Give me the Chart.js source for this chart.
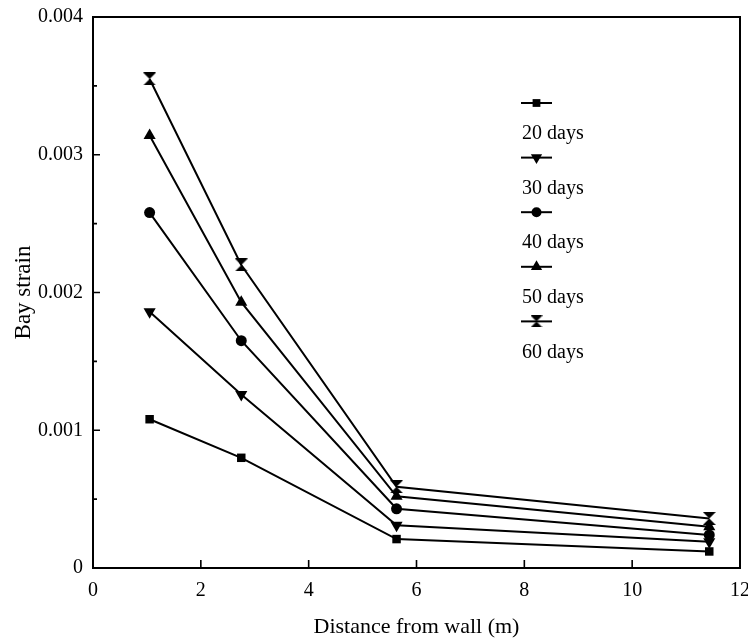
<!DOCTYPE html>
<html>
<head>
<meta charset="utf-8">
<script src="https://cdn.jsdelivr.net/npm/chart.js@4.4.0/dist/chart.umd.min.js"></script>
<style>
  html, body { margin: 0; padding: 0; background: #fff; }
  #wrap { width: 748px; height: 644px; }
</style>
</head>
<body>
<div id="wrap"><canvas id="c" width="748" height="644"></canvas></div>
<script>
// distance from wall (m) for the four gauge positions
const distances = [1.05, 2.75, 5.63, 11.43];

// bay strain per age
const days20 = [0.00108, 0.00080, 0.00021, 0.00012];
const days30 = [0.00186, 0.00126, 0.00031, 0.00019];
const days40 = [0.00258, 0.00165, 0.00043, 0.00024];
const days50 = [0.00314, 0.00193, 0.00052, 0.00030];
const days60 = [0.00355, 0.00220, 0.00059, 0.00036];

const seriesNames = ['20 days', '30 days', '40 days', '50 days', '60 days'];

const FONT = '"Liberation Serif", "DejaVu Serif", serif';

// hourglass marker for the 60 days series
function hourglass(size) {
  const cv = document.createElement('canvas');
  cv.width = size; cv.height = size;
  const g = cv.getContext('2d');
  g.fillStyle = '#000';
  g.beginPath();
  g.moveTo(0, 0); g.lineTo(size, 0); g.lineTo(0, size); g.lineTo(size, size);
  g.closePath();
  g.fill();
  return cv;
}

const markers = [
  { pointStyle: 'rect', pointRadius: 6, rotation: 0 },
  { pointStyle: 'triangle', pointRadius: 7, rotation: 180 },
  { pointStyle: 'circle', pointRadius: 5.5, rotation: 0 },
  { pointStyle: 'triangle', pointRadius: 7, rotation: 0 },
  { pointStyle: hourglass(13), pointRadius: 6, rotation: 0 },
];
const legendMarkers = [
  { pointStyle: 'rect', radius: 5.5, rotation: 0 },
  { pointStyle: 'triangle', radius: 6.5, rotation: 180 },
  { pointStyle: 'circle', radius: 5, rotation: 0 },
  { pointStyle: 'triangle', radius: 6.5, rotation: 0 },
  { pointStyle: hourglass(12), radius: 5, rotation: 0 },
];

const datasets = [days20, days30, days40, days50, days60].map((vals, i) => ({
  label: seriesNames[i],
  data: distances.map((x, j) => ({ x: x, y: vals[j] })),
  borderColor: '#000', backgroundColor: '#000',
  borderWidth: 2, tension: 0,
  pointStyle: markers[i].pointStyle,
  pointRadius: markers[i].pointRadius,
  pointRotation: markers[i].rotation,
  pointBorderWidth: 0,
}));

// frame + inward tick marks
const framePlugin = {
  id: 'frame',
  beforeDatasetsDraw(chart) {
    const { ctx, chartArea: a, scales } = chart;
    ctx.save();
    ctx.strokeStyle = '#000';
    ctx.lineWidth = 2;
    ctx.strokeRect(a.left, a.top, a.right - a.left, a.bottom - a.top);
    ctx.lineWidth = 1.6;
    ctx.beginPath();
    scales.x.ticks.forEach((t) => {
      const px = scales.x.getPixelForValue(t.value);
      ctx.moveTo(px, a.bottom); ctx.lineTo(px, a.bottom - 8);
    });
    const yt = scales.y.ticks;
    yt.forEach((t, i) => {
      const py = scales.y.getPixelForValue(t.value);
      ctx.moveTo(a.left, py); ctx.lineTo(a.left + 7, py);
      if (i < yt.length - 1) {
        const pm = scales.y.getPixelForValue((t.value + yt[i + 1].value) / 2);
        ctx.moveTo(a.left, pm); ctx.lineTo(a.left + 4, pm);
      }
    });
    ctx.stroke();
    ctx.restore();
  },
};

// legend stacked inside the plot: marker line, then label below it
const legendPlugin = {
  id: 'stackLegend',
  afterDraw(chart) {
    const { ctx } = chart;
    const x0 = 521, x1 = 552, top = 103, step = 54.6;
    ctx.save();
    chart.data.datasets.forEach((ds, i) => {
      const y = top + i * step;
      ctx.strokeStyle = '#000';
      ctx.lineWidth = 2;
      ctx.beginPath(); ctx.moveTo(x0, y); ctx.lineTo(x1, y); ctx.stroke();
      ctx.fillStyle = '#000';
      const m = legendMarkers[i];
      Chart.helpers.drawPoint(ctx, { pointStyle: m.pointStyle, radius: m.radius, rotation: m.rotation, borderWidth: 0 }, (x0 + x1) / 2, y);
      ctx.font = '20px ' + FONT;
      ctx.textAlign = 'left';
      ctx.textBaseline = 'middle';
      ctx.fillText(ds.label, 522, y + 31);
    });
    ctx.restore();
  },
};

new Chart(document.getElementById('c'), {
  type: 'line',
  data: { datasets },
  plugins: [framePlugin, legendPlugin],
  options: {
    responsive: false,
    animation: false,
    layout: { padding: { top: 17, right: 8, left: 0, bottom: 0 } },
    plugins: { legend: { display: false }, tooltip: { enabled: false } },
    scales: {
      x: {
        type: 'linear', min: 0, max: 12,
        ticks: { stepSize: 2, color: '#000', font: { family: FONT, size: 20 }, padding: 11 },
        grid: { display: false, drawTicks: false },
        border: { display: false },
        title: { display: true, text: 'Distance from wall (m)', color: '#000', font: { family: FONT, size: 22 }, padding: { top: 6 } },
        afterFit(s) { s.height = 76; s.paddingLeft = 0; s.paddingRight = 0; },
      },
      y: {
        type: 'linear', min: 0, max: 0.004,
        ticks: { stepSize: 0.001, color: '#000', font: { family: FONT, size: 20 }, padding: 10,
          callback: (v) => (v === 0 ? '0' : v.toFixed(3)) },
        grid: { display: false, drawTicks: false },
        border: { display: false },
        title: { display: true, text: 'Bay strain', color: '#000', font: { family: FONT, size: 23 }, padding: { top: 10, bottom: 4 } },
        afterFit(s) { s.width = 93; s.paddingTop = 0; s.paddingBottom = 0; },
      },
    },
  },
});
</script>
</body>
</html>
